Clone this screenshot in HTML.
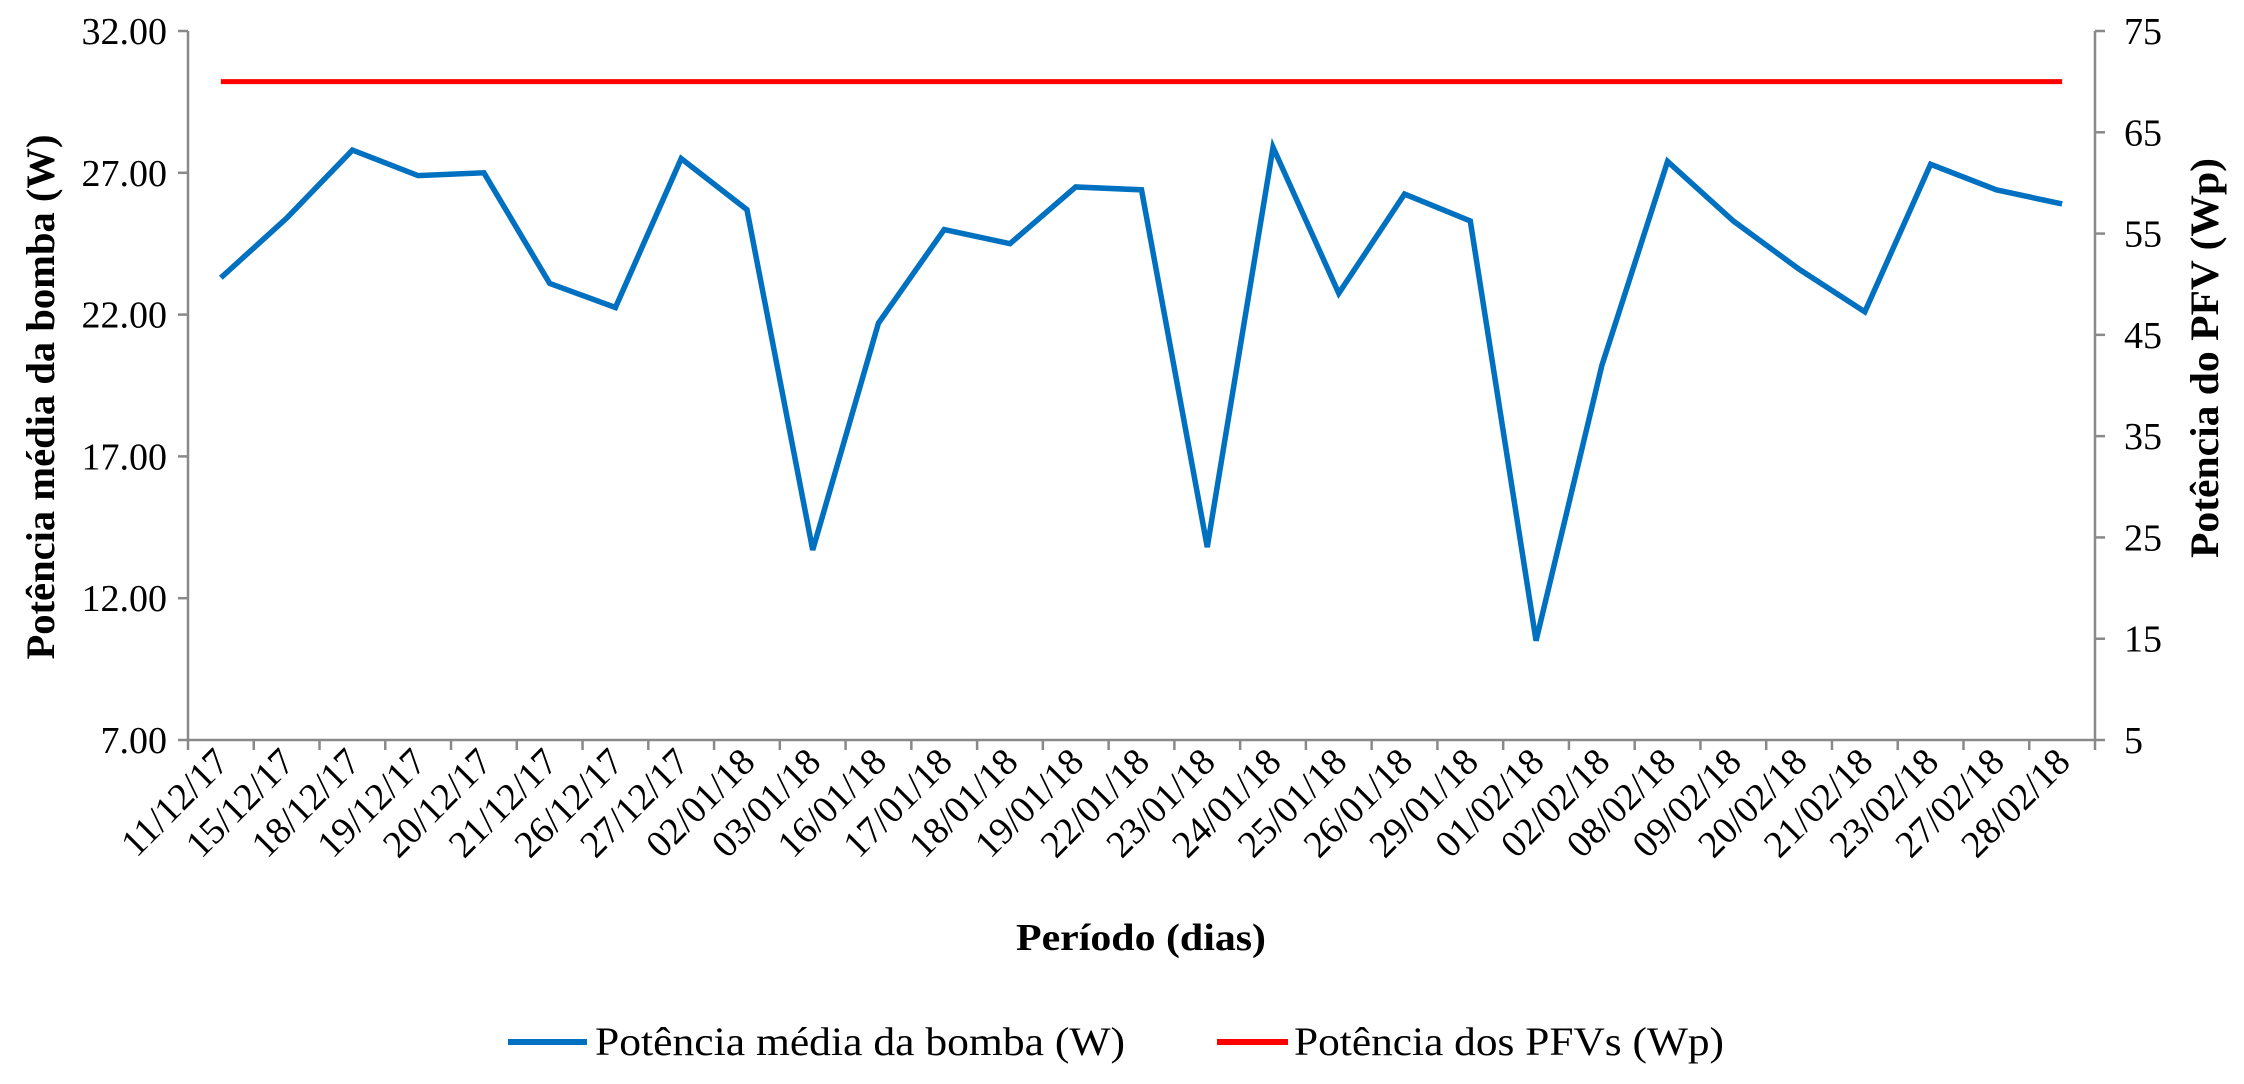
<!DOCTYPE html>
<html><head><meta charset="utf-8"><style>
html,body{margin:0;padding:0;background:#fff;}
svg{display:block;font-family:"Liberation Serif",serif;}
</style></head><body>
<svg id="chart" width="2244" height="1084" viewBox="0 0 2244 1084" xmlns="http://www.w3.org/2000/svg"></svg>
<script>
const categories=["11/12/17","15/12/17","18/12/17","19/12/17","20/12/17","21/12/17","26/12/17","27/12/17","02/01/18","03/01/18","16/01/18","17/01/18","18/01/18","19/01/18","22/01/18","23/01/18","24/01/18","25/01/18","26/01/18","29/01/18","01/02/18","02/02/18","08/02/18","09/02/18","20/02/18","21/02/18","23/02/18","27/02/18","28/02/18"];
const pumpPower=[23.3,25.4,27.8,26.9,27.0,23.1,22.25,27.5,25.7,13.7,21.7,25.0,24.5,26.5,26.4,13.8,27.9,22.75,26.25,25.3,10.5,20.2,27.4,25.3,23.6,22.1,27.3,26.4,25.9];
const pvPower=[70,70,70,70,70,70,70,70,70,70,70,70,70,70,70,70,70,70,70,70,70,70,70,70,70,70,70,70,70];
const leftTicks=[7,12,17,22,27,32];
const leftTickLabels=["7.00","12.00","17.00","22.00","27.00","32.00"];
const rightTicks=[5,15,25,35,45,55,65,75];

const NS="http://www.w3.org/2000/svg";
const svg=document.getElementById('chart');
const X0=188,X1=2095,YT=31,YB=740;
const cw=(X1-X0)/categories.length;
const xPos=i=>X0+(i+0.5)*cw;
const yL=v=>YB-(v-7)/(32-7)*(YB-YT);
const yR=v=>YB-(v-5)/(75-5)*(YB-YT);
function mk(tag,attrs,text){const e=document.createElementNS(NS,tag);for(const k in attrs)e.setAttribute(k,attrs[k]);if(text!==undefined)e.textContent=text;svg.appendChild(e);return e;}
const axisCol="#898989";

let e=mk('line',{x1:X0,y1:YT,x2:X0,y2:YB,stroke:axisCol,'stroke-width':2.5});


e=mk('line',{x1:X1,y1:YT,x2:X1,y2:YB,stroke:axisCol,'stroke-width':2.5});


e=mk('line',{x1:X0,y1:YB,x2:X1,y2:YB,stroke:axisCol,'stroke-width':2.5});



leftTicks.forEach((v,i)=>{
  const y=yL(v);
  let t=mk('line',{x1:X0-10,y1:y,x2:X0,y2:y,stroke:axisCol,'stroke-width':2.5});
  
  
  let l=mk('text',{x:167,y:y+13,'text-anchor':'end','font-size':38},leftTickLabels[i]);
  
  
});
rightTicks.forEach(v=>{
  const y=yR(v);
  let t=mk('line',{x1:X1,y1:y,x2:X1+10,y2:y,stroke:axisCol,'stroke-width':2.5});
  
  
  let l=mk('text',{x:2124,y:y+13,'text-anchor':'start','font-size':38},String(v));
  
  
});
for(let i=0;i<=categories.length;i++){
  const x=X0+i*cw;
  let t=mk('line',{x1:x,y1:YB,x2:x,y2:YB+10,stroke:axisCol,'stroke-width':2.5});
  
  
}
categories.forEach((c,i)=>{
  const x=xPos(i)+10,y=764;
  let l=mk('text',{x:x,y:y,'text-anchor':'end','font-size':38,transform:`rotate(-45 ${x} ${y})`},c);
  
  
});

const pv=pvPower.map((v,i)=>`${xPos(i)},${yR(v)}`).join(' ');
let rl=mk('polyline',{points:pv,fill:'none',stroke:'#FF0000','stroke-width':5});


const pp=pumpPower.map((v,i)=>`${xPos(i)},${yL(v)}`).join(' ');
let bl=mk('polyline',{points:pp,fill:'none',stroke:'#0070C0','stroke-width':5.5,'stroke-linejoin':'miter'});



let tt=mk('text',{x:0,y:0,'text-anchor':'middle','font-size':40,'font-weight':'bold',textLength:525,lengthAdjust:'spacingAndGlyphs',transform:'translate(54 397) rotate(-90)'},'Potência média da bomba (W)');


tt=mk('text',{x:0,y:0,'text-anchor':'middle','font-size':40,'font-weight':'bold',textLength:400,lengthAdjust:'spacingAndGlyphs',transform:'translate(2218 358) rotate(-90)'},'Potência do PFV (Wp)');


tt=mk('text',{x:1016,y:950,'font-size':38,'font-weight':'bold',textLength:250,lengthAdjust:'spacingAndGlyphs'},'Período (dias)');



let lg=mk('line',{x1:508,y1:1042,x2:587,y2:1042,stroke:'#0070C0','stroke-width':6});


lg=mk('text',{x:595,y:1055,'font-size':40,textLength:530,lengthAdjust:'spacingAndGlyphs'},'Potência média da bomba (W)');


lg=mk('line',{x1:1217,y1:1042,x2:1288,y2:1042,stroke:'#FF0000','stroke-width':6});


lg=mk('text',{x:1294,y:1055,'font-size':40,textLength:430,lengthAdjust:'spacingAndGlyphs'},'Potência dos PFVs (Wp)');


</script>
</body></html>
